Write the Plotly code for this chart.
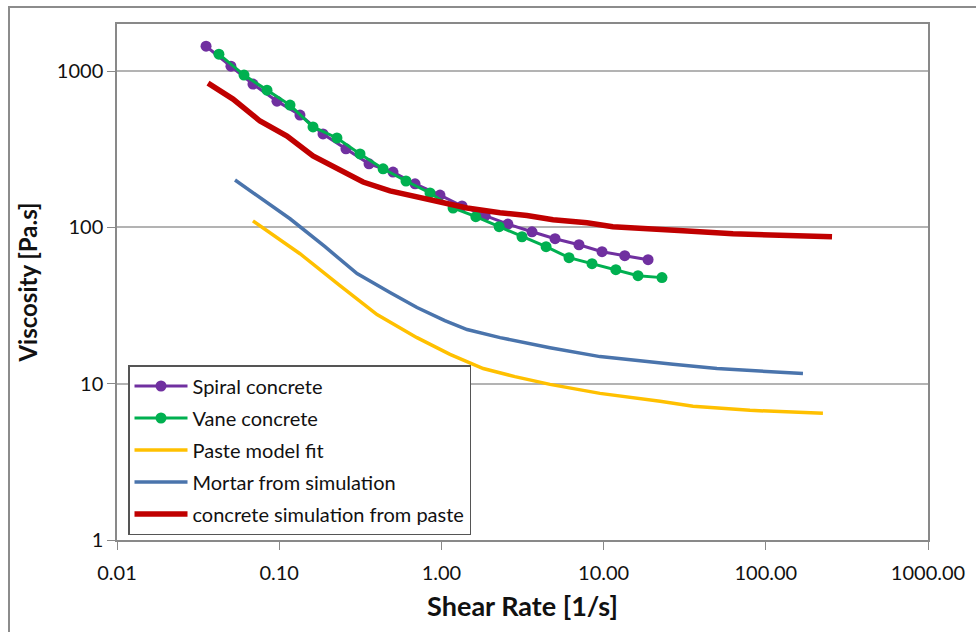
import plotly.graph_objects as go
import math

# ---- data ----
spiral_x = [0.0354, 0.0504, 0.0689, 0.0969, 0.1343, 0.1862, 0.258, 0.358, 0.503, 0.688,
            0.980, 1.34, 1.86, 2.57, 3.62, 5.02, 7.05, 9.78, 13.5, 18.8]
spiral_y = [1442, 1075, 825, 642, 523, 396, 318, 255, 226, 190,
            161, 137, 119, 105, 93.7, 84.6, 77.4, 69.9, 65.9, 62.1]

vane_x = [0.0425, 0.0607, 0.0841, 0.1166, 0.1616, 0.227, 0.315, 0.437, 0.605, 0.851,
          1.18, 1.63, 2.27, 3.14, 4.42, 6.12, 8.48, 11.9, 16.3, 22.9]
vane_y = [1282, 942, 755, 606, 439, 373, 295, 237, 198, 166,
          133, 117, 101, 87.1, 75.2, 64.0, 58.6, 53.6, 49.1, 47.7]

paste_x = [0.0689, 0.1343, 0.237, 0.401, 0.707, 1.13, 1.81, 2.84, 4.67, 9.50,
           22.3, 35.6, 79.9, 225]
paste_y = [110, 67.8, 42.4, 27.7, 19.7, 15.4, 12.5, 11.1, 9.90, 8.67,
           7.71, 7.17, 6.75, 6.46]

mortar_x = [0.0534, 0.0783, 0.1166, 0.1916, 0.302, 0.482, 0.707, 1.05, 1.44, 2.30,
            4.67, 9.50, 17.5, 26.8, 50.0, 101.7, 169.5]
mortar_y = [201, 152, 113.5, 75.2, 50.6, 38.3, 30.7, 25.3, 22.2, 19.7,
            17.0, 14.9, 13.9, 13.3, 12.5, 12.0, 11.6]

csim_x = [0.0364, 0.0519, 0.0761, 0.1117, 0.1616, 0.262, 0.329, 0.482, 0.738, 1.13,
          1.44, 2.30, 3.37, 4.88, 7.90, 11.4, 16.8, 30.9, 62.8, 101.7, 256]
csim_y = [837, 662, 479, 384, 286, 220, 195, 171, 154, 141.6,
          133, 124, 119, 112, 107, 101, 98, 95.1, 91.0, 89.7, 87.1]

x_tickvals = [0.01, 0.1, 1, 10, 100, 1000]
x_ticktext = ["0.01", "0.10", "1.00", "10.00", "100.00", "1000.00"]
y_tickvals = [1, 10, 100, 1000]
y_ticktext = ["1", "10", "100", "1000"]

FONT = "Lato"

fig = go.Figure()
fig.add_trace(go.Scatter(x=spiral_x, y=spiral_y, name="Spiral concrete", mode="lines+markers",
                         line=dict(color="#7030A0", width=3), marker=dict(size=11, color="#7030A0"),
                         legendgroup="a"))
fig.add_trace(go.Scatter(x=vane_x, y=vane_y, name="Vane concrete", mode="lines+markers",
                         line=dict(color="#00B050", width=3), marker=dict(size=11, color="#00B050"),
                         legendgroup="b"))
fig.add_trace(go.Scatter(x=paste_x, y=paste_y, name="Paste model fit", mode="lines",
                         line=dict(color="#FFC000", width=3.5), legendgroup="c"))
fig.add_trace(go.Scatter(x=mortar_x, y=mortar_y, name="Mortar from simulation", mode="lines",
                         line=dict(color="#4A74AC", width=3.5), legendgroup="d"))
fig.add_trace(go.Scatter(x=csim_x, y=csim_y, name="concrete simulation from paste", mode="lines",
                         line=dict(color="#C00000", width=5.5), legendgroup="e"))

axis_common = dict(showline=True, linecolor="#898989", linewidth=1.5, mirror=True,
                   ticks="outside", ticklen=8, tickcolor="#898989", tickwidth=1,
                   tickfont=dict(family=FONT, size=20, color="#111111"))

fig.update_xaxes(type="log", range=[-2, 3], tickvals=x_tickvals, ticktext=x_ticktext,
                 showgrid=False, zeroline=False, ticklabelstandoff=6,
                 title=dict(text="<b>Shear Rate [1/s]</b>", font=dict(family=FONT, size=27, color="#111111"),
                            standoff=14),
                 **axis_common)
fig.update_yaxes(type="log", range=[0, math.log10(2000)], tickvals=y_tickvals, ticktext=y_ticktext,
                 showgrid=True, gridcolor="#B3B3B3", gridwidth=1.5, zeroline=False,
                 title=dict(text="<b>Viscosity [Pa.s]</b>", font=dict(family=FONT, size=24, color="#111111"),
                            standoff=12),
                 **axis_common)

W0 = 976 - 117 - 48
H0 = 632 - 24 - 92

fig.add_shape(type="rect", xref="paper", yref="paper",
              x0=(9 - 117) / W0, x1=(990 - 117) / W0,
              y0=(540 - 650) / H0, y1=(540 - 7) / H0,
              line=dict(color="#8C8C8C", width=2), fillcolor="rgba(0,0,0,0)", layer="below")

fig.update_layout(
    width=976, height=632,
    margin=dict(l=117, r=48, t=24, b=92),
    plot_bgcolor="white", paper_bgcolor="white",
    font=dict(family=FONT, color="#111111"),
    legend=dict(x=(128 - 117) / W0, y=(540 - 365) / H0, xanchor="left", yanchor="top",
                bordercolor="#555555", borderwidth=1.5, bgcolor="white",
                font=dict(family=FONT, size=20, color="#111111"),
                traceorder="grouped", tracegroupgap=3, itemwidth=53),
    showlegend=True,
)

fig.write_html("out.html")
